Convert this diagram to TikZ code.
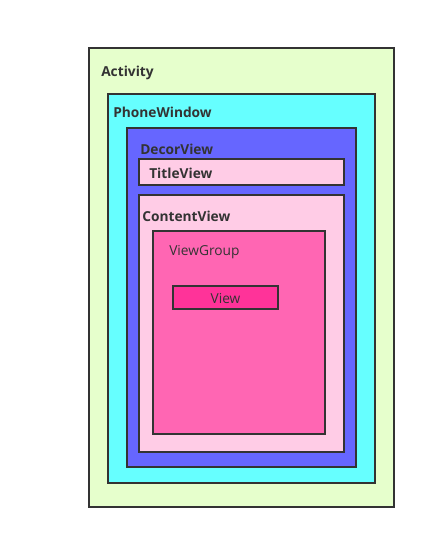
\documentclass[tikz,border=0pt]{standalone}
\usepackage{fontspec}
\setmainfont{Open Sans}
\usetikzlibrary{fit}

\definecolor{boxline}{HTML}{333333}
\definecolor{actfill}{HTML}{E6FFCC}
\definecolor{winfill}{HTML}{66FFFF}
\definecolor{decorfill}{HTML}{6666FF}
\definecolor{paleink}{HTML}{FFCCE6}
\definecolor{groupfill}{HTML}{FF66B3}
\definecolor{viewfill}{HTML}{FF3399}

\tikzset{
    box/.style={draw=boxline, line width=1.5pt, inner sep=0pt},
    title/.style={anchor=west, text=boxline, font=\bfseries\fontsize{10.3}{12}\selectfont, inner sep=0pt},
    plain/.style={text=boxline, font=\fontsize{10.3}{12}\selectfont, inner sep=0pt}
}

\begin{document}
\begin{tikzpicture}[x=0.75pt, y=-0.75pt]
    \useasboundingbox (0,0) rectangle (426,539);
    % nested boxes
    \node[box, fill=actfill, fit={(89,48) (394,507)}] (activity) {};
    \node[box, fill=winfill, fit={(108,94) (375,483)}] (window) {};
    \node[box, fill=decorfill, fit={(127,128) (356,467)}] (decor) {};
    \node[box, fill=paleink, fit={(139,159) (344,185)}] (titleview) {};
    \node[box, fill=paleink, fit={(139,195) (344,452)}] (content) {};
    \node[box, fill=groupfill, fit={(153,231) (325,434)}] (group) {};
    \node[box, fill=viewfill, fit={(173,286) (278,309)}] (view) {};
    % labels
    \node[title] (activitylbl) at (101,72.5) {Activity};
    \node[title] (windowlbl) at (113,112.5) {PhoneWindow};
    \node[title] (decorlbl) at (140,149.5) {DecorView};
    \node[title] at (titleview.west) [xshift=8.25pt, yshift=-1pt] (titlelbl) {TitleView};
    \node[title] (contentlbl) at (142,216.5) {ContentView};
    \node[plain, anchor=west] (grouplbl) at (169,252.5) {ViewGroup};
    \node[plain] (viewlbl) at ([yshift=-0.8pt]view.center) {View};
\end{tikzpicture}
\end{document}
